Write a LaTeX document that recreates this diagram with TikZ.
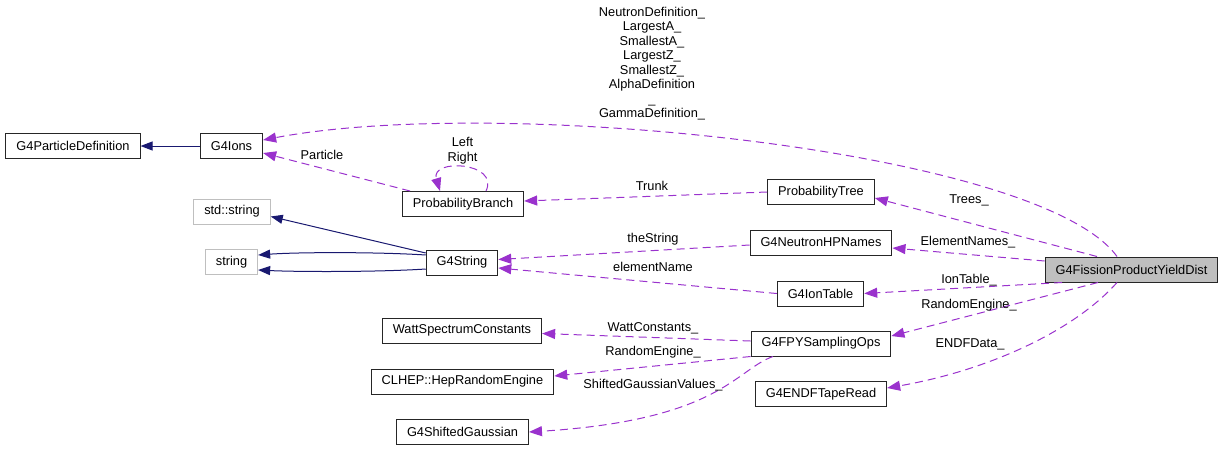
\documentclass[tikz,border=0pt]{standalone}
\usepackage{fontspec}
\setmainfont{Liberation Sans}
\usetikzlibrary{arrows.meta}
\definecolor{inhcol}{HTML}{191970}
\definecolor{usecol}{HTML}{9A32CD}

\begin{document}
\begin{tikzpicture}
            [x=1pt,y=-1pt,every node/.style={font=\fontsize{12.8}{14.5}\selectfont},
             cls/.style={draw=black!85,line width=1pt,fill=white,minimum height=25pt,inner xsep=10.5pt,inner ysep=0pt},
             ext/.style={cls,draw=black!25},
             cur/.style={cls,fill=black!25},
             inh/.style={draw=inhcol,line width=1pt,-{Triangle[length=12pt,width=9pt]}},
             use/.style={draw=usecol,line width=1pt,dash pattern=on 8pt off 5pt,-{Triangle[length=13pt,width=10pt]}}]
            \useasboundingbox (0,0) rectangle (1227,451);
            \node[cls] (A) at (73,146) {G4ParticleDefinition};
            \node[cls] (B) at (231.5,146) {G4Ions};
            \node[ext] (C) at (232,211.5) {std::string};
            \node[ext] (D) at (231.5,262) {string};
            \node[cls] (E) at (463,204) {ProbabilityBranch};
            \node[cls] (F) at (462,262.5) {G4String};
            \node[cls] (G) at (462,330.5) {WattSpectrumConstants};
            \node[cls] (H) at (462.5,381.5) {CLHEP::HepRandomEngine};
            \node[cls] (I) at (462.5,432) {G4ShiftedGaussian};
            \node[cls] (J) at (821,192) {ProbabilityTree};
            \node[cls] (K) at (821,242.5) {G4NeutronHPNames};
            \node[cls] (L) at (820.5,293.5) {G4IonTable};
            \node[cls] (M) at (821,343.5) {G4FPYSamplingOps};
            \node[cls] (N) at (821,394) {G4ENDFTapeRead};
            \node[cur] (O) at (1131.5,269.5) {G4FissionProductYieldDist};

            \draw[inh] (B) -- (A);
            \draw[inh] ([yshift=9.5]F.west) -- ([yshift=-5]C.east);
            \draw[inh] ([yshift=7.5]F.west) .. controls (380,252) and (300,252) .. ([yshift=7]D.east);
            \draw[inh] ([yshift=-6.5]F.west) .. controls (380,272) and (300,272) .. ([yshift=-8]D.east);

            \draw[use] ([xshift=-14.5]O.north) .. controls (1040,150) and (500,95) .. ([yshift=6]B.east);
            \draw[use] ([xshift=-34.5]O.north) -- ([yshift=-6]J.east);
            \draw[use] ([yshift=8.5]O.west) -- ([yshift=-5.5]K.east);
            \draw[use] ([xshift=-69.5]O.south) -- (L.east);
            \draw[use] ([xshift=-33.5]O.south) -- ([yshift=7.5]M.east);
            \draw[use] ([xshift=-14.5]O.south) .. controls (1075,330) and (990,370) .. ([yshift=6]N.east);
            \draw[use] (J.west) -- ([yshift=3]E.east);
            \draw[use] ([xshift=-53]E.north) -- ([yshift=-7]B.east);
            \draw[use] ([xshift=23]E.north) .. controls +(14,-29) and +(-10,-33) .. ([xshift=-23]E.north);
            \draw[use] ([yshift=-2.5]K.west) -- ([yshift=3]F.east);
            \draw[use] (L.west) -- ([yshift=-5.5]F.east);
            \draw[use] ([yshift=2.5]M.west) -- ([yshift=-3]G.east);
            \draw[use] (M.south west) -- ([yshift=5.5]H.east);
            \draw[use] ([xshift=-48]M.south) .. controls (735,370) and (720,420) .. (I.east);

            \node[align=center] (l1) at (652,63.5) {NeutronDefinition\_\\LargestA\_\\SmallestA\_\\LargestZ\_\\SmallestZ\_\\AlphaDefinition\\\_\\GammaDefinition\_};
            \node (l2) at (322,155) {Particle};
            \node[align=center] (l3) at (462.5,150.5) {Left\\Right};
            \node (l4) at (652,186) {Trunk};
            \node (l5) at (969,200) {Trees\_};
            \node (l6) at (653,239) {theString};
            \node (l7) at (968,242) {ElementNames\_};
            \node (l8) at (653,267) {elementName};
            \node (l9) at (969,280) {IonTable\_};
            \node (l10) at (969,305) {RandomEngine\_};
            \node (l11) at (970,344) {ENDFData\_};
            \node (l12) at (653,328) {WattConstants\_};
            \node (l13) at (653,352) {RandomEngine\_};
            \node (l14) at (653,385) {ShiftedGaussianValues\_};
        \end{tikzpicture}
\end{document}
